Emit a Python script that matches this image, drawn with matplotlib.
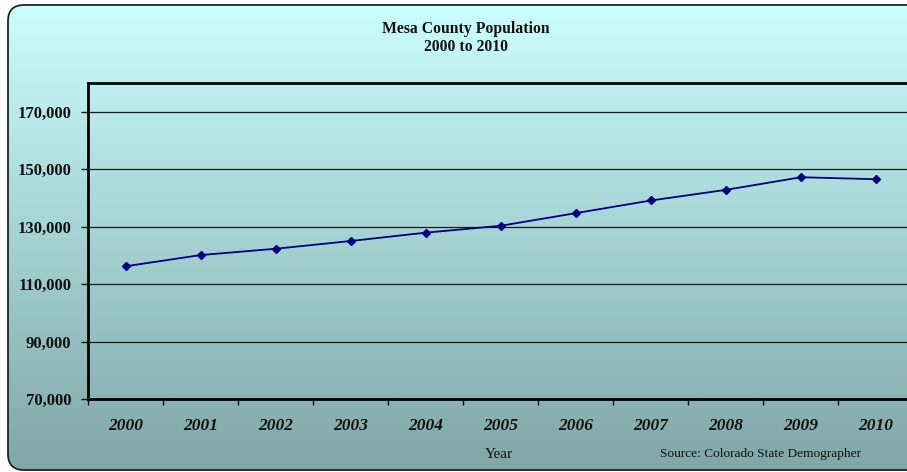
import numpy as np
import matplotlib
matplotlib.use("Agg")
import matplotlib.pyplot as plt
from matplotlib.patches import FancyBboxPatch
from matplotlib.ticker import FuncFormatter, FixedLocator

years = ["2000", "2001", "2002", "2003", "2004", "2005", "2006", "2007", "2008", "2009", "2010"]
population = [116200, 120100, 122300, 125000, 127900, 130300, 134700, 139100, 142800, 147200, 146500]
y_ticks = [70000, 90000, 110000, 130000, 150000, 170000]

W, H = 907, 472
fig = plt.figure(figsize=(W / 100, H / 100), dpi=100)
fig.patch.set_facecolor("white")

serif = ["Liberation Serif", "DejaVu Serif"]

# background gradient in a rounded frame
bg = fig.add_axes([0, 0, 1, 1])
bg.set_xlim(0, W)
bg.set_ylim(H, 0)
bg.axis("off")
top = np.array([204, 255, 255]) / 255
bot = np.array([128, 166, 166]) / 255
t = np.linspace(0, 1, 256)[:, None]
grad = (top[None, :] * (1 - t) + bot[None, :] * t)[:, None, :]
im = bg.imshow(grad, extent=(0, W + 40, H, 0), aspect="auto", zorder=0)
frame = FancyBboxPatch((8, 5), W + 40, 465, boxstyle="round,pad=0,rounding_size=16",
                       facecolor="none", edgecolor="#222222", linewidth=1.3, zorder=2)
bg.add_patch(frame)
im.set_clip_path(frame)

bg.text(466, 29, "Mesa County Population", ha="center", va="center",
        fontsize=11.3, fontweight="bold", family=serif, color="#111111")
bg.text(466, 47, "2000 to 2010", ha="center", va="center",
        fontsize=11.3, fontweight="bold", family=serif, color="#111111")
bg.text(499, 455, "Year", ha="center", va="center", fontsize=11, family=serif, color="#111111")
bg.text(761, 454, "Source: Colorado State Demographer", ha="center", va="center",
        fontsize=9.6, family=serif, color="#111111")

# main axes
left, right, ytop, ybot = 88, 913.5, 83, 399
ax = fig.add_axes([left / W, 1 - ybot / H, (right - left) / W, (ybot - ytop) / H])
ax.set_facecolor("none")
x = np.arange(len(years))
ax.plot(x, population, color="#000080", linewidth=1.3, marker="D", markersize=4.5,
        markerfacecolor="#000080", markeredgecolor="#000080", zorder=3)
ax.set_xlim(-0.5, len(years) - 0.5)
ax.set_ylim(70000, 180000)
ax.set_yticks(y_ticks)
ax.yaxis.set_major_formatter(FuncFormatter(lambda v, p: f"{int(v):,}"))
ax.grid(axis="y", color="#1a1a1a", linewidth=0.9)
ax.set_axisbelow(True)

ax.xaxis.set_major_locator(FixedLocator(x))
ax.set_xticklabels(years)
ax.xaxis.set_minor_locator(FixedLocator(np.arange(-0.5, len(years), 1.0)))
ax.tick_params(axis="x", which="major", length=0, pad=14)
ax.tick_params(axis="x", which="minor", length=4, width=1, direction="out", color="#111111")
ax.tick_params(axis="y", length=5, width=1, direction="out", color="#111111", pad=7)
for lab in ax.get_xticklabels():
    lab.set_fontfamily(serif)
    lab.set_fontweight("bold")
    lab.set_fontstyle("italic")
    lab.set_fontsize(12.5)
    lab.set_color("#111111")
for lab in ax.get_yticklabels():
    lab.set_fontfamily(serif)
    lab.set_fontweight("bold")
    lab.set_fontsize(12)
    lab.set_color("#111111")

for s in ["left", "bottom", "top"]:
    ax.spines[s].set_linewidth(2)
    ax.spines[s].set_color("#000000")
ax.spines["right"].set_visible(False)

fig.savefig("out.png", dpi=100)
